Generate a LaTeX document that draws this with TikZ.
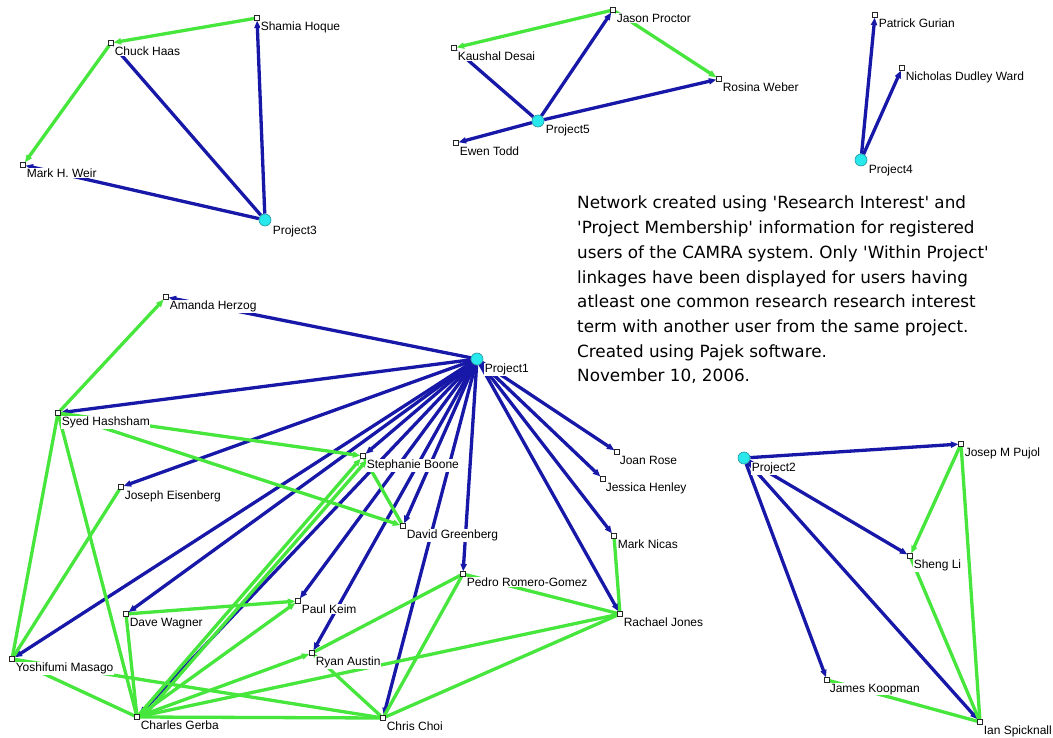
\documentclass[tikz,border=0pt]{standalone}
\usepackage{fontspec}
\setmainfont{Liberation Sans}
\newfontfamily\notefont{DejaVu Sans}
\usetikzlibrary{arrows.meta,backgrounds}
\definecolor{eblue}{RGB}{24,24,168}
\definecolor{egreen}{RGB}{70,230,60}
\definecolor{pfill}{RGB}{40,232,236}
\definecolor{pline}{RGB}{30,150,160}
\begin{document}
\begin{tikzpicture}[x=1pt,y=-1pt,
  pt/.style={draw=black!85,fill=white,minimum size=4.5pt,inner sep=0pt,line width=0.7pt},
  proj/.style={circle,draw=pline,fill=pfill,minimum size=12pt,inner sep=0pt,line width=0.6pt},
  lbl/.style={anchor=north west,fill=white,inner sep=0.6pt,font=\fontsize{12}{12}\selectfont},
  be/.style={draw=eblue,line width=3.3pt},
  ge/.style={draw=egreen,line width=3.3pt},
  ar/.style={-{Triangle[length=7.5pt,width=6pt]}}]
\useasboundingbox (0,0) rectangle (1053,738);

% ---------- Project3 group
\node[pt] (shamia) at (257,18) {};
\node[pt] (chuck) at (111,43) {};
\node[pt] (weir) at (23,165) {};
\node[proj] (p3) at (265,220) {};
% ---------- Project5 group
\node[pt] (jason) at (613,10) {};
\node[pt] (kaushal) at (454,48) {};
\node[pt] (rosina) at (719,79) {};
\node[pt] (ewen) at (456,143) {};
\node[proj] (p5) at (538,121) {};
% ---------- Project4 group
\node[pt] (patrick) at (875,15) {};
\node[pt] (nicholas) at (902,68) {};
\node[proj] (p4) at (861,160) {};
% ---------- Project2 group
\node[pt] (josep) at (961,444) {};
\node[pt] (sheng) at (910,556) {};
\node[pt] (james) at (827,680) {};
\node[pt] (ian) at (980,722) {};
\node[proj] (p2) at (744,458) {};
% ---------- Project1 group
\node[pt] (amanda) at (166,297) {};
\node[pt] (syed) at (58,413) {};
\node[pt] (joseph) at (121,487) {};
\node[pt] (stephanie) at (363,456) {};
\node[pt] (david) at (403,526) {};
\node[pt] (joan) at (617,452) {};
\node[pt] (jessica) at (603,479) {};
\node[pt] (mark) at (614,536) {};
\node[pt] (pedro) at (463,574) {};
\node[pt] (rachael) at (620,614) {};
\node[pt] (paul) at (298,601) {};
\node[pt] (dave) at (126,614) {};
\node[pt] (ryan) at (312,653) {};
\node[pt] (yoshi) at (12,659) {};
\node[pt] (charles) at (137,717) {};
\node[pt] (chris) at (383,718) {};
\node[proj] (p1) at (477,359) {};

\begin{scope}[on background layer]
\fill[white] (0,0) rectangle (1053,738);
% Project3
\draw[ge,ar] (shamia) -- (chuck);
\draw[ge,ar] (chuck) -- (weir);
\draw[be,ar] (p3) -- (chuck);
\draw[be,ar] (p3) -- (shamia);
\draw[be,ar] (p3) -- (weir);
% Project5
\draw[ge,ar] (jason) -- (kaushal);
\draw[ge,ar] (jason) -- (rosina);
\draw[be,ar] (p5) -- (jason);
\draw[be,ar] (p5) -- (rosina);
\draw[be,ar] (p5) -- (ewen);
\draw[be,ar] (p5) -- (kaushal);
% Project4
\draw[be,ar] (p4) -- (patrick);
\draw[be,ar] (p4) -- (nicholas);
% Project2
\draw[be,ar] (p2) -- (josep);
\draw[be,ar] (p2) -- (sheng);
\draw[be,ar] (p2) -- (james);
\draw[be,ar] (p2) -- (ian);
\draw[ge,ar] (josep) -- (sheng);
\draw[ge] (sheng) -- (ian);
\draw[ge] (josep) -- (ian);
\draw[ge] (james) -- (ian);
% Project1 arcs
\foreach \m in {amanda,syed,joseph,yoshi,stephanie,david,dave,paul,charles,ryan,chris,pedro,joan,jessica,mark,rachael}
  \draw[be,ar] (p1) -- (\m);
% Project1 green links
\draw[ge,ar] (syed) -- (amanda);
\draw[ge,ar] (syed) -- (stephanie);
\draw[ge,ar] (syed) -- (david);
\draw[ge] (syed) -- (yoshi);
\draw[ge] (syed) -- (charles);
\draw[ge] (joseph) -- (yoshi);
\draw[ge] (stephanie) -- (david);
\draw[ge,ar] (charles) -- (stephanie);
\draw[ge,ar] ([xshift=6pt]charles.center) -- ([xshift=4pt,yshift=-4pt]stephanie.center);
\draw[ge,ar] (dave) -- (paul);
\draw[ge] (dave) -- (charles);
\draw[ge,ar] (charles) -- (paul);
\draw[ge,ar] (charles) -- (ryan);
\draw[ge] (charles) -- (rachael);
\draw[ge] (charles) -- (chris);
\draw[ge] (yoshi) -- (charles);
\draw[ge] (yoshi) -- (chris);
\draw[ge] (ryan) -- (chris);
\draw[ge] (ryan) -- (pedro);
\draw[ge] (chris) -- (pedro);
\draw[ge] (chris) -- (rachael);
\draw[ge] (pedro) -- (rachael);
\draw[ge] (mark) -- (rachael);
\end{scope}

% ---------- labels
\node[lbl] (shamia-l) at (260,21) {Shamia Hoque};
\node[lbl] (chuck-l) at (114,46) {Chuck Haas};
\node[lbl] (weir-l) at (26,168) {Mark H. Weir};
\node[lbl] (p3-l) at (272,225) {Project3};
\node[lbl] (jason-l) at (616,13) {Jason Proctor};
\node[lbl] (kaushal-l) at (457,51) {Kaushal Desai};
\node[lbl] (rosina-l) at (722,82) {Rosina Weber};
\node[lbl] (ewen-l) at (459,146) {Ewen Todd};
\node[lbl] (p5-l) at (545,124) {Project5};
\node[lbl] (patrick-l) at (878,18) {Patrick Gurian};
\node[lbl] (nicholas-l) at (905,71) {Nicholas Dudley Ward};
\node[lbl] (p4-l) at (868,164) {Project4};
\node[lbl] (josep-l) at (964,447) {Josep M Pujol};
\node[lbl] (sheng-l) at (913,559) {Sheng Li};
\node[lbl] (james-l) at (829,683) {James Koopman};
\node[lbl] (ian-l) at (983,725) {Ian Spicknall};
\node[lbl] (p2-l) at (751,462) {Project2};
\node[lbl] (amanda-l) at (169,300) {Amanda Herzog};
\node[lbl] (syed-l) at (61,416) {Syed Hashsham};
\node[lbl] (joseph-l) at (124,490) {Joseph Eisenberg};
\node[lbl] (stephanie-l) at (366,459) {Stephanie Boone};
\node[lbl] (david-l) at (406,529) {David Greenberg};
\node[lbl] (joan-l) at (619,455) {Joan Rose};
\node[lbl] (jessica-l) at (605,482) {Jessica Henley};
\node[lbl] (mark-l) at (617,539) {Mark Nicas};
\node[lbl] (pedro-l) at (466,577) {Pedro Romero-Gomez};
\node[lbl] (rachael-l) at (623,617) {Rachael Jones};
\node[lbl] (paul-l) at (301,604) {Paul Keim};
\node[lbl] (dave-l) at (129,617) {Dave Wagner};
\node[lbl] (ryan-l) at (315,656) {Ryan Austin};
\node[lbl] (yoshi-l) at (15,662) {Yoshifumi Masago};
\node[lbl] (charles-l) at (140,720) {Charles Gerba};
\node[lbl] (chris-l) at (386,721) {Chris Choi};
\node[lbl] (p1-l) at (484,363) {Project1};

\node[anchor=north west,align=left,inner sep=0pt,font=\notefont\fontsize{16.8}{24.7}\selectfont\frenchspacing,text=black] (note) at (577,196)
 {Network created using 'Research Interest' and\\
  'Project Membership' information for registered\\
  users of the CAMRA system. Only 'Within Project'\\
  linkages have been displayed for users having\\
  atleast one common research research interest\\
  term with another user from the same project.\\
  Created using Pajek software.\\
  November 10, 2006.};
\end{tikzpicture}
\end{document}
